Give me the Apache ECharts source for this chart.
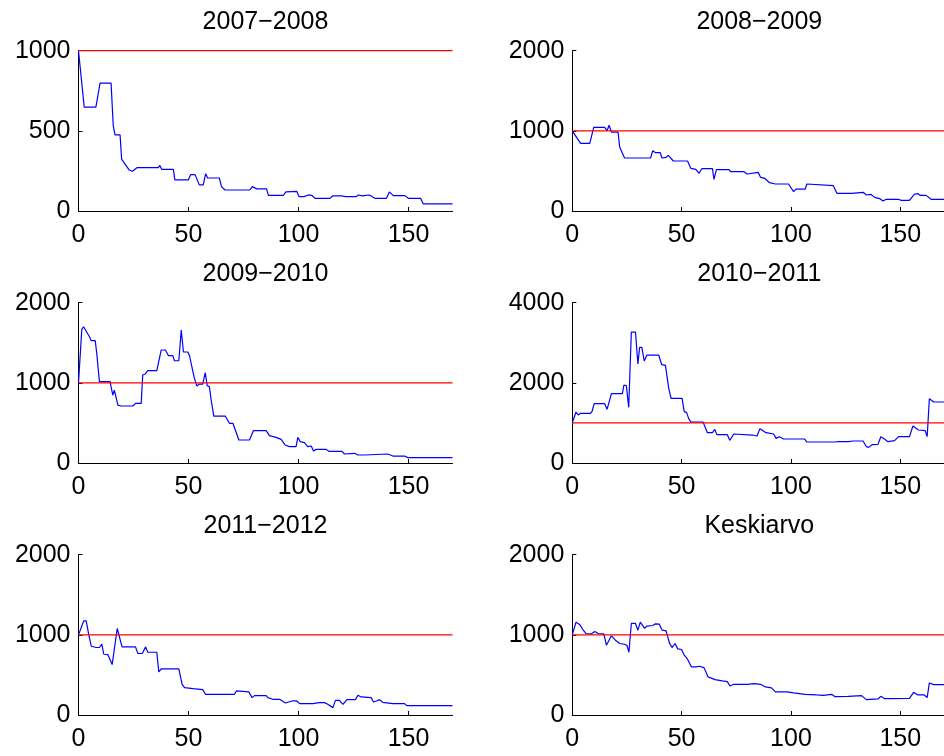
<!DOCTYPE html>
<html>
<head>
<meta charset="utf-8">
<script src="https://cdn.jsdelivr.net/npm/echarts@6/dist/echarts.min.js"></script>
<style>
html,body{margin:0;padding:0;background:#fff;}
#chart{width:944px;height:756px;}
</style>
</head>
<body>
<div id="chart"></div>
<script>
// ---- data ----
const panelTitles = ['2007\u22122008', '2008\u22122009', '2009\u22122010', '2010\u22122011', '2011\u22122012', 'Keskiarvo'];
const yMax = [1000, 2000, 2000, 4000, 2000, 2000];
const yStep = [500, 1000, 1000, 2000, 1000, 1000];
const xTickValues = [0, 50, 100, 150];
const xMax = 170;
const thresholdValue = 1000;

const s2007 = [[0,1000],[2.6,648],[7.9,648],[9.8,798],[14.8,798],[15.8,531],[16.6,475],[18.9,475],[19.6,323],[20.7,302],[21.6,300],[23,256],[24.5,248],[26.7,271],[36.3,271],[37,284],[37.8,260],[43.1,260],[43.8,194],[49.9,194],[51,227],[53,227],[54.9,163],[56.7,163],[57.8,233],[58.7,206],[64,206],[65,152],[66.6,131],[77.9,131],[79,152],[81,138],[85.5,138],[86.3,98],[93.1,98],[94.3,119],[99.2,123],[100.2,90],[101,96],[102.5,90],[104.4,100],[106,98],[107.5,79],[114.3,79],[115.5,94],[119.6,94],[120.4,100],[121.4,90],[126.2,90],[127.3,100],[129,94],[132.2,100],[134.7,79],[140,79],[141.3,119],[143.1,96],[148.4,96],[149.9,79],[155.5,79],[156.7,44],[170,44]];

const s2008 = [[0,1000],[3.8,844],[8,844],[9.8,1044],[14.8,1044],[15.9,1002],[16.8,1069],[17.9,985],[20.9,985],[21.7,794],[22.4,780],[23.9,661],[35.8,661],[36.8,753],[38,728],[40.2,728],[41,661],[42.9,670],[43.9,694],[46.2,624],[52.7,624],[54.2,532],[56.5,520],[58,470],[59.2,528],[64.1,528],[64.8,395],[65.9,516],[71.7,516],[72.4,491],[78.5,491],[79.2,504],[80,462],[80.8,482],[85,482],[86.1,420],[88,408],[90.2,353],[92.9,337],[98.9,337],[101.2,241],[102.3,274],[106.5,274],[107.3,337],[108,316],[119.4,316],[121,220],[127.7,220],[128.5,233],[133,233],[134.5,200],[136.5,208],[138.3,170],[140.6,155],[142.1,125],[143.6,146],[149,146],[150.5,133],[154.2,133],[156.5,212],[158,216],[159.2,195],[161.8,195],[164.1,146],[170,146]];

const s2009 = [[0,1000],[1.5,1667],[2.3,1700],[3.2,1700],[5,1576],[5.8,1526],[7.6,1526],[8.3,1368],[9.5,1015],[14.4,1015],[14.8,952],[15.6,848],[16.3,910],[17.9,723],[19.4,711],[24.7,711],[25.9,744],[28.5,744],[29.2,1098],[30.3,1110],[31.5,1152],[35.6,1152],[37.6,1410],[39.5,1410],[40.9,1339],[42.9,1339],[43.6,1276],[45.6,1276],[46.7,1659],[47.7,1385],[49.7,1385],[50.5,1335],[52,1139],[52.7,1056],[53.8,960],[54.7,985],[56.5,985],[57.6,1127],[58.5,965],[59.5,952],[60.3,786],[61.5,586],[66.7,586],[68.6,495],[70.2,495],[72.9,287],[77.7,287],[79.5,403],[85.3,403],[86.8,341],[89.8,320],[92.1,295],[93.9,225],[95.9,204],[98.9,204],[99.7,320],[100.8,266],[102.7,254],[104.2,204],[105.8,212],[106.8,150],[108,170],[112.6,170],[113.8,146],[119.8,146],[120.9,112],[125.5,121],[127,100],[130,100],[130.8,112],[140.6,112],[142.9,87],[148.2,87],[149.7,67],[170,67]];

const s2010 = [[0,1006],[1.7,1272],[2.7,1198],[3.8,1239],[8.3,1239],[9.1,1297],[10,1480],[14.8,1480],[15.9,1339],[16.8,1339],[17.9,1730],[22.9,1730],[23.6,1946],[24.7,1930],[25.8,1389],[27,3268],[28.9,3268],[30,2470],[30.8,2886],[31.8,2886],[32.9,2545],[34.1,2694],[39.5,2694],[40.9,2453],[42.6,2436],[44.1,1863],[45.2,1613],[50.2,1613],[51.2,1281],[52.3,1256],[53.2,1114],[54.2,1023],[59.8,1023],[60.5,990],[61.8,757],[64.1,757],[65.2,840],[66.1,707],[70.9,707],[72,565],[73.9,723],[82.3,698],[84.5,674],[85.8,857],[88.6,757],[92.1,723],[93.2,615],[94.7,657],[96.7,599],[106.2,599],[107.3,524],[120.2,524],[121.7,532],[126.2,532],[127,574],[128.5,549],[133,549],[134.5,407],[135.5,390],[137.1,457],[139.8,465],[141.1,657],[142.9,590],[144.4,532],[147.4,557],[149.2,657],[154.2,657],[155.8,923],[158.3,823],[161.4,806],[162.3,657],[163.3,1605],[165.3,1522],[170,1522]];

const s2011 = [[0,1000],[2.4,1175],[3.5,1175],[4.7,996],[5.8,858],[8,842],[9.5,842],[10.6,883],[11.5,758],[13.3,754],[15.3,629],[17.6,1079],[19.8,850],[25.9,850],[27,767],[29,767],[30.5,850],[31.5,783],[35.6,783],[36.5,538],[37.6,575],[45.6,575],[47.1,383],[48.2,342],[52,329],[56.5,317],[57.7,258],[70.9,258],[71.7,300],[77.4,288],[78.9,217],[80,242],[85.3,242],[86.1,217],[88.3,196],[91.4,196],[94.1,150],[97.1,175],[99.2,175],[100.5,142],[106.5,142],[109.5,154],[111.8,154],[113.3,133],[115.6,92],[116.8,183],[118.6,183],[120.2,133],[122,192],[125.9,192],[127,246],[128.5,225],[133,217],[134.1,162],[135.5,175],[136.8,192],[138.3,158],[142.9,142],[148.2,142],[149.2,117],[170,117]];

const sMean = [[0,1000],[1.7,1158],[3.5,1125],[5,1058],[6.2,1017],[8.8,1013],[10.3,1042],[11.8,1017],[14.4,1013],[15.6,871],[17.9,988],[19.7,933],[21.7,892],[23.9,883],[25,867],[25.9,783],[27,1142],[28.9,1142],[30,1058],[31.1,1158],[33,1083],[34.1,1108],[36.8,1117],[38,1137],[39.8,1133],[41.1,1058],[42.9,1050],[44.4,900],[45.6,842],[47,892],[48.2,825],[50,817],[51.2,746],[52.7,696],[54.5,600],[56.5,600],[58.3,608],[60.3,588],[62.1,475],[65.3,442],[68.6,425],[70.9,417],[72.1,362],[73.9,383],[80,383],[83,392],[86.1,383],[88.3,350],[91.1,338],[92.9,288],[98.2,288],[101.2,275],[106.5,258],[111.8,250],[114.8,246],[118.6,258],[120.2,229],[126.2,233],[127,254],[132.3,242],[134.5,192],[139.8,200],[141.1,233],[142.9,204],[154.2,208],[156.1,283],[158,250],[161,250],[162.3,217],[163.3,400],[165.3,379],[170,379]];

const seriesData = [s2007, s2008, s2009, s2010, s2011, sMean];

// ---- layout ----
const FONT = "'Liberation Sans', Arial, Helvetica, sans-serif";
const FS = 25;
const colLeft = [78.5, 572.3];
const plotW = 374;
const rowTop = [50.7, 302.7, 554.7];
const plotH = 160.3;
const plainNumber = v => String(v);

const chart = echarts.init(document.getElementById('chart'), null, {renderer: 'canvas'});
const grids = [], xAxes = [], yAxes = [], series = [], titles = [];
for (let i = 0; i < 6; i++) {
  const c = i % 2, r = Math.floor(i / 2);
  grids.push({left: colLeft[c], top: rowTop[r], width: plotW, height: plotH, containLabel: false});
  titles.push({
    text: panelTitles[i], left: colLeft[c] + plotW / 2, top: rowTop[r] - 41, textAlign: 'center', padding: 0,
    textStyle: {fontFamily: FONT, fontSize: FS, fontWeight: 'normal', color: '#000'}
  });
  xAxes.push({
    type: 'value', gridIndex: i, min: 0, max: xMax, interval: 50,
    axisLine: {show: true, onZero: false, lineStyle: {color: '#000', width: 1}},
    axisTick: {show: true, inside: true, length: 4, customValues: xTickValues, lineStyle: {color: '#000'}},
    axisLabel: {show: true, margin: 12, customValues: xTickValues, formatter: plainNumber, fontFamily: FONT, fontSize: FS, color: '#000'},
    splitLine: {show: false}
  });
  yAxes.push({
    type: 'value', gridIndex: i, min: 0, max: yMax[i], interval: yStep[i],
    axisLine: {show: true, onZero: false, lineStyle: {color: '#000', width: 1}},
    axisTick: {show: true, inside: true, length: 4, lineStyle: {color: '#000'}},
    axisLabel: {show: true, margin: 8, formatter: plainNumber, fontFamily: FONT, fontSize: FS, color: '#000', showMinLabel: true, showMaxLabel: true},
    splitLine: {show: false}
  });
  series.push({
    type: 'line', xAxisIndex: i, yAxisIndex: i, data: seriesData[i],
    showSymbol: false, symbol: 'none', lineStyle: {color: '#0000ff', width: 1.2}, z: 2, silent: true
  });
  series.push({
    type: 'line', xAxisIndex: i, yAxisIndex: i, data: [[0, thresholdValue], [xMax, thresholdValue]],
    showSymbol: false, symbol: 'none', lineStyle: {color: '#ff0000', width: 1.2}, z: 3, silent: true
  });
}
chart.setOption({
  animation: false,
  backgroundColor: '#fff',
  title: titles,
  grid: grids,
  xAxis: xAxes,
  yAxis: yAxes,
  series: series
});
</script>
</body>
</html>
